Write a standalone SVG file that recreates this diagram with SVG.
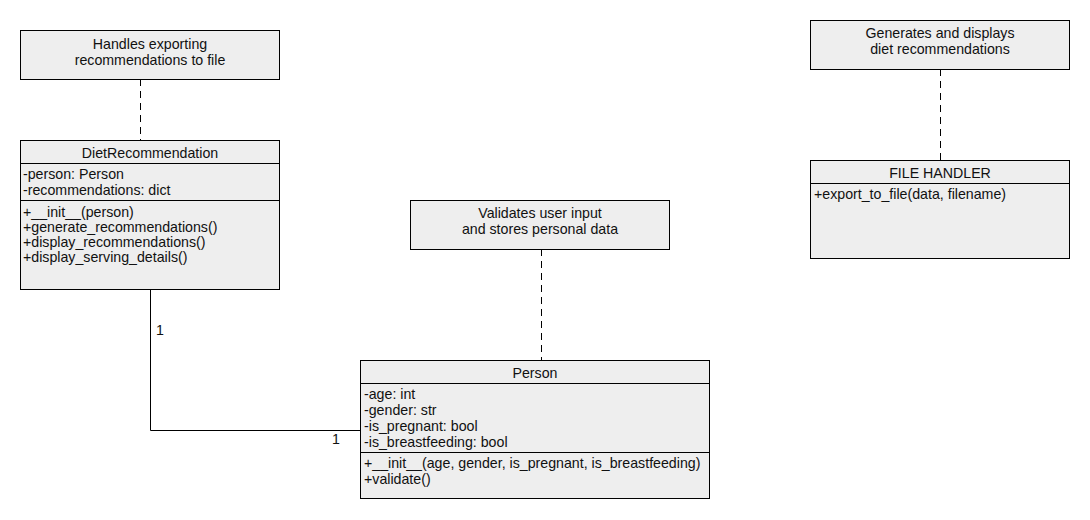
<svg xmlns="http://www.w3.org/2000/svg" width="1090" height="520" viewBox="0 0 1090 520">
<style>
.box{fill:#eeeeee;stroke:#000;stroke-width:1}
.sep{stroke:#000;stroke-width:1}
text{font-family:"Liberation Sans",Arial,sans-serif;font-size:14.2px;fill:#111}
.c{text-anchor:middle}
.dash{stroke:#000;stroke-width:1;stroke-dasharray:7,5;fill:none}
.assoc{stroke:#000;stroke-width:1;fill:none}
</style>
<rect width="1090" height="520" fill="#fff"/>
<g id="connectors">
<line class="dash" x1="140.5" y1="79" x2="140.5" y2="140"/>
<line class="dash" x1="940.5" y1="69" x2="940.5" y2="160"/>
<line class="dash" x1="541.5" y1="249" x2="541.5" y2="360"/>
<polyline class="assoc" points="150.5,289 150.5,430.5 360,430.5"/>
<text x="156" y="335">1</text>
<text x="332" y="444">1</text>
</g>
<g id="note-export">
<rect class="box" x="20.5" y="30.5" width="259" height="49"/>
<text class="c" x="150" y="49">Handles exporting</text>
<text class="c" x="150" y="65">recommendations to file</text>
</g>
<g id="note-diet">
<rect class="box" x="810.5" y="20.5" width="259" height="49"/>
<text class="c" x="940" y="38">Generates and displays</text>
<text class="c" x="940" y="54">diet recommendations</text>
</g>
<g id="note-person">
<rect class="box" x="410.5" y="200.5" width="259" height="49"/>
<text class="c" x="540" y="218">Validates user input</text>
<text class="c" x="540" y="234">and stores personal data</text>
</g>
<g id="DietRecommendation">
<rect class="box" x="20.5" y="140.5" width="259" height="149"/>
<line class="sep" x1="20.5" y1="163.5" x2="279.5" y2="163.5"/>
<line class="sep" x1="20.5" y1="200.5" x2="279.5" y2="200.5"/>
<text class="c" x="150" y="158">DietRecommendation</text>
<text x="23" y="179">-person: Person</text>
<text x="23" y="195">-recommendations: dict</text>
<text x="23" y="217">+__init__(person)</text>
<text x="23" y="232">+generate_recommendations()</text>
<text x="23" y="247">+display_recommendations()</text>
<text x="23" y="262">+display_serving_details()</text>
</g>
<g id="FileHandler">
<rect class="box" x="810.5" y="160.5" width="259" height="98"/>
<line class="sep" x1="810.5" y1="183.5" x2="1069.5" y2="183.5"/>
<text class="c" x="940" y="178">FILE HANDLER</text>
<text x="814" y="199">+export_to_file(data, filename)</text>
</g>
<g id="Person">
<rect class="box" x="360.5" y="360.5" width="349" height="138"/>
<line class="sep" x1="360.5" y1="383.5" x2="709.5" y2="383.5"/>
<line class="sep" x1="360.5" y1="452.5" x2="709.5" y2="452.5"/>
<text class="c" x="535" y="378">Person</text>
<text x="364" y="399">-age: int</text>
<text x="364" y="415">-gender: str</text>
<text x="364" y="431">-is_pregnant: bool</text>
<text x="364" y="447">-is_breastfeeding: bool</text>
<text x="364" y="468">+__init__(age, gender, is_pregnant, is_breastfeeding)</text>
<text x="364" y="484">+validate()</text>
</g>
</svg>
